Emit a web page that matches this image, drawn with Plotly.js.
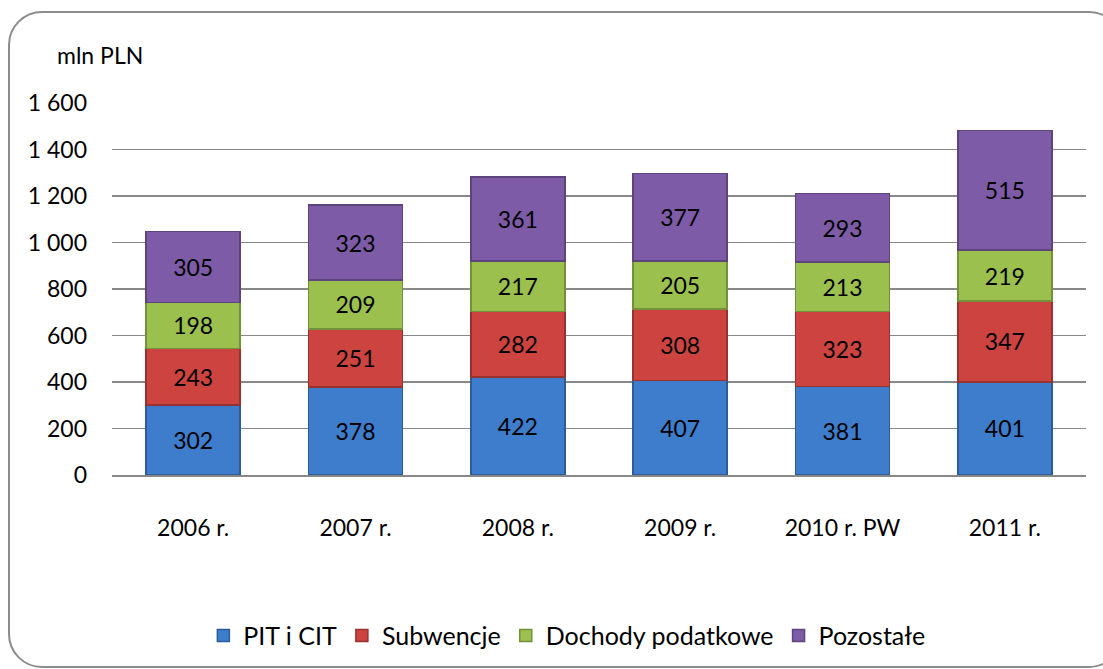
<!DOCTYPE html>
<html><head><meta charset="utf-8">
<script src="https://cdn.plot.ly/plotly-3.0.1.min.js"></script>
<style>
html,body{margin:0;padding:0;background:#fff;overflow:hidden;}
#wrap{position:relative;width:1103px;height:669px;overflow:hidden;}
#frame{position:absolute;left:8px;top:11px;width:1115px;height:657px;border:2px solid #8c8c8c;border-radius:34px;box-sizing:border-box;pointer-events:none;z-index:5;}
#chart{position:absolute;left:0;top:0;width:1103px;height:669px;}
</style></head>
<body><div id="wrap"><div id="chart"></div><div id="frame"></div></div>
<script>
const categories = ["2006 r.", "2007 r.", "2008 r.", "2009 r.", "2010 r. PW", "2011 r."];
const pitCit = [302, 378, 422, 407, 381, 401];
const subwencje = [243, 251, 282, 308, 323, 347];
const dochody = [198, 209, 217, 205, 213, 219];
const pozostale = [305, 323, 361, 377, 293, 515];
const seriesNames = ["PIT i CIT", "Subwencje", "Dochody podatkowe", "Pozostałe"];
const yTicks = [0, 200, 400, 600, 800, 1000, 1200, 1400, 1600];

const fills = ["#3d7dcc", "#cc4340", "#9bc04e", "#7d5ba6"];
const edges = ["#2c5d98", "#983230", "#73903a", "#5d447c"];
const FONT = "Lato, 'Open Sans', sans-serif";

const data = [pitCit, subwencje, dochody, pozostale].map((vals, i) => ({
  type: "bar",
  name: seriesNames[i],
  x: categories,
  y: vals,
  text: vals.map(String),
  textposition: "inside",
  insidetextanchor: "middle",
  textangle: 0,
  constraintext: "none",
  textfont: {family: FONT, size: 23, color: "#000"},
  marker: {color: fills[i], line: {color: edges[i], width: 1.5}},
  hoverinfo: "skip"
}));

const layout = {
  width: 1103, height: 669,
  paper_bgcolor: "#fff", plot_bgcolor: "#fff",
  separators: ", ",
  barmode: "stack",
  bargap: 0.42,
  margin: {l: 112, r: 17, t: 103, b: 193},
  font: {family: FONT, size: 23, color: "#000"},
  xaxis: {
    showgrid: false, showline: true, linecolor: "#888", linewidth: 1.5,
    ticks: "", tickfont: {family: FONT, size: 23}, ticklabelstandoff: 32
  },
  yaxis: {
    range: [0, 1600], tickvals: yTicks, tickformat: ",d",
    showgrid: true, gridcolor: "#888", gridwidth: 1.3,
    zeroline: false, showline: false, ticks: "",
    tickfont: {family: FONT, size: 23}, ticklabelstandoff: 24
  },
  showlegend: true,
  legend: {
    orientation: "h", x: 0.467, xanchor: "center", y: -0.4286, yanchor: "middle",
    font: {family: FONT, size: 25}, traceorder: "normal",
    itemwidth: 30, tracegroupgap: 0
  },
  annotations: [{
    text: "mln PLN", xref: "paper", yref: "paper",
    x: -0.012, y: 1.128, xanchor: "center", yanchor: "middle",
    showarrow: false, font: {family: FONT, size: 23}
  }]
};

Plotly.newPlot("chart", data, layout, {displayModeBar: false, staticPlot: true});
</script></body></html>
